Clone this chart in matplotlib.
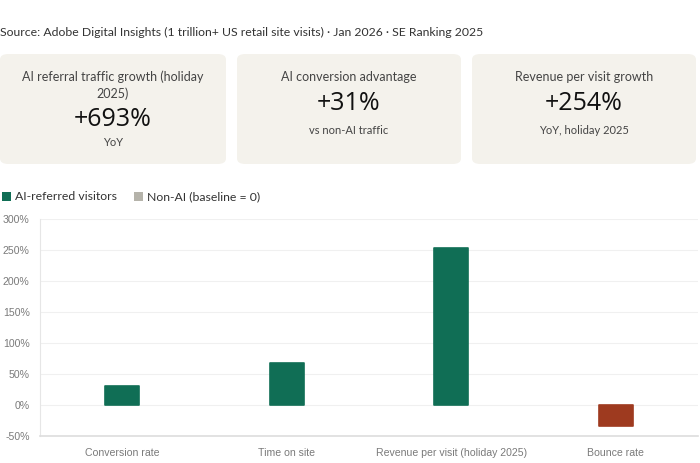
import matplotlib.pyplot as plt
from matplotlib.patches import FancyBboxPatch, Rectangle
from matplotlib.ticker import FuncFormatter

# data
categories = ['Conversion rate', 'Time on site', 'Revenue per visit (holiday 2025)', 'Bounce rate']
ai_values = [31, 68, 254, -34]
non_ai_values = [0, 0, 0, 0]
bar_colors = ['#106e55', '#106e55', '#106e55', '#9e3a1f']

card_titles = ['AI referral traffic growth (holiday\n2025)', 'AI conversion advantage', 'Revenue per visit growth']
card_values = ['+693%', '+31%', '+254%']
card_notes = ['YoY', 'vs non-AI traffic', 'YoY, holiday 2025']

source = 'Source: Adobe Digital Insights (1 trillion+ US retail site visits) \u00b7 Jan 2026 \u00b7 SE Ranking 2025'

W, H = 700, 463
fig = plt.figure(figsize=(7, 4.63), dpi=100)
fig.patch.set_facecolor('white')
ui = 'Lato'

def fx(x):
    return x / W

def fy(y):
    return 1 - y / H

fig.text(fx(0), fy(32), source, fontsize=8.8, color='#333333', family=ui, va='center')

# summary cards
cards_x = [(0, 226), (237, 461), (472, 696)]
for i, (x0, x1) in enumerate(cards_x):
    box = FancyBboxPatch((fx(x0), fy(164)), fx(x1 - x0), (164 - 54) / H,
                         boxstyle='round,pad=0,rounding_size=0.012',
                         transform=fig.transFigure, facecolor='#f4f2ec',
                         edgecolor='none')
    fig.patches.append(box)
    cx = fx((x0 + x1) / 2)
    if i == 0:
        fig.text(cx, fy(85), card_titles[i], fontsize=9, color='#444444', family=ui,
                 ha='center', va='center', linespacing=1.45)
        fig.text(cx, fy(119), card_values[i], fontsize=18, color='#111111', family='Open Sans',
                 ha='center', va='center')
        fig.text(cx, fy(143), card_notes[i], fontsize=8, color='#444444', family=ui,
                 ha='center', va='center')
    else:
        fig.text(cx, fy(77), card_titles[i], fontsize=9, color='#444444', family=ui,
                 ha='center', va='center')
        fig.text(cx, fy(104), card_values[i], fontsize=18, color='#111111', family='Open Sans',
                 ha='center', va='center')
        fig.text(cx, fy(130), card_notes[i], fontsize=8, color='#444444', family=ui,
                 ha='center', va='center')

# legend
for lx, label, col in [(2, 'AI-referred visitors', '#106e55'), (134, 'Non-AI (baseline = 0)', '#b5b3aa')]:
    fig.patches.append(Rectangle((fx(lx), fy(201)), fx(9), 9 / H, transform=fig.transFigure,
                                 facecolor=col, edgecolor='none'))
    fig.text(fx(lx + 13), fy(197), label, fontsize=8.8, color='#333333', family=ui, va='center')

# bar chart
ax = fig.add_axes([fx(40), fy(436), fx(658), (436 - 219) / H])
x = range(len(categories))
ax.bar(x, non_ai_values, width=0.21, color='#b5b3aa')
bars = ax.bar(x, ai_values, width=0.205, color=bar_colors, edgecolor=bar_colors, linewidth=1.2)
for b in bars:
    b.set_joinstyle('round')
ax.set_xlim(-0.5, 3.5)
ax.set_ylim(-50, 300)
ax.set_yticks(range(-50, 301, 50))
ax.yaxis.set_major_formatter(FuncFormatter(lambda v, p: f'{int(v)}%'))
ax.set_xticks(list(x))
ax.set_xticklabels(categories)
ax.grid(axis='y', color='#f0f0f0', linewidth=0.8)
ax.set_axisbelow(True)
for s in ['top', 'right']:
    ax.spines[s].set_visible(False)
ax.spines['left'].set_color('#e6e6e6')
ax.spines['bottom'].set_color('#dddddd')
ax.spines['bottom'].set_linewidth(1.2)
ax.tick_params(axis='both', length=0, labelsize=7.6, labelcolor='#7a7a7a')
ax.tick_params(axis='x', pad=9)
ax.tick_params(axis='y', pad=7.5)
for lab in ax.get_xticklabels() + ax.get_yticklabels():
    lab.set_family('Liberation Sans')

fig.savefig('out.png', dpi=100)
